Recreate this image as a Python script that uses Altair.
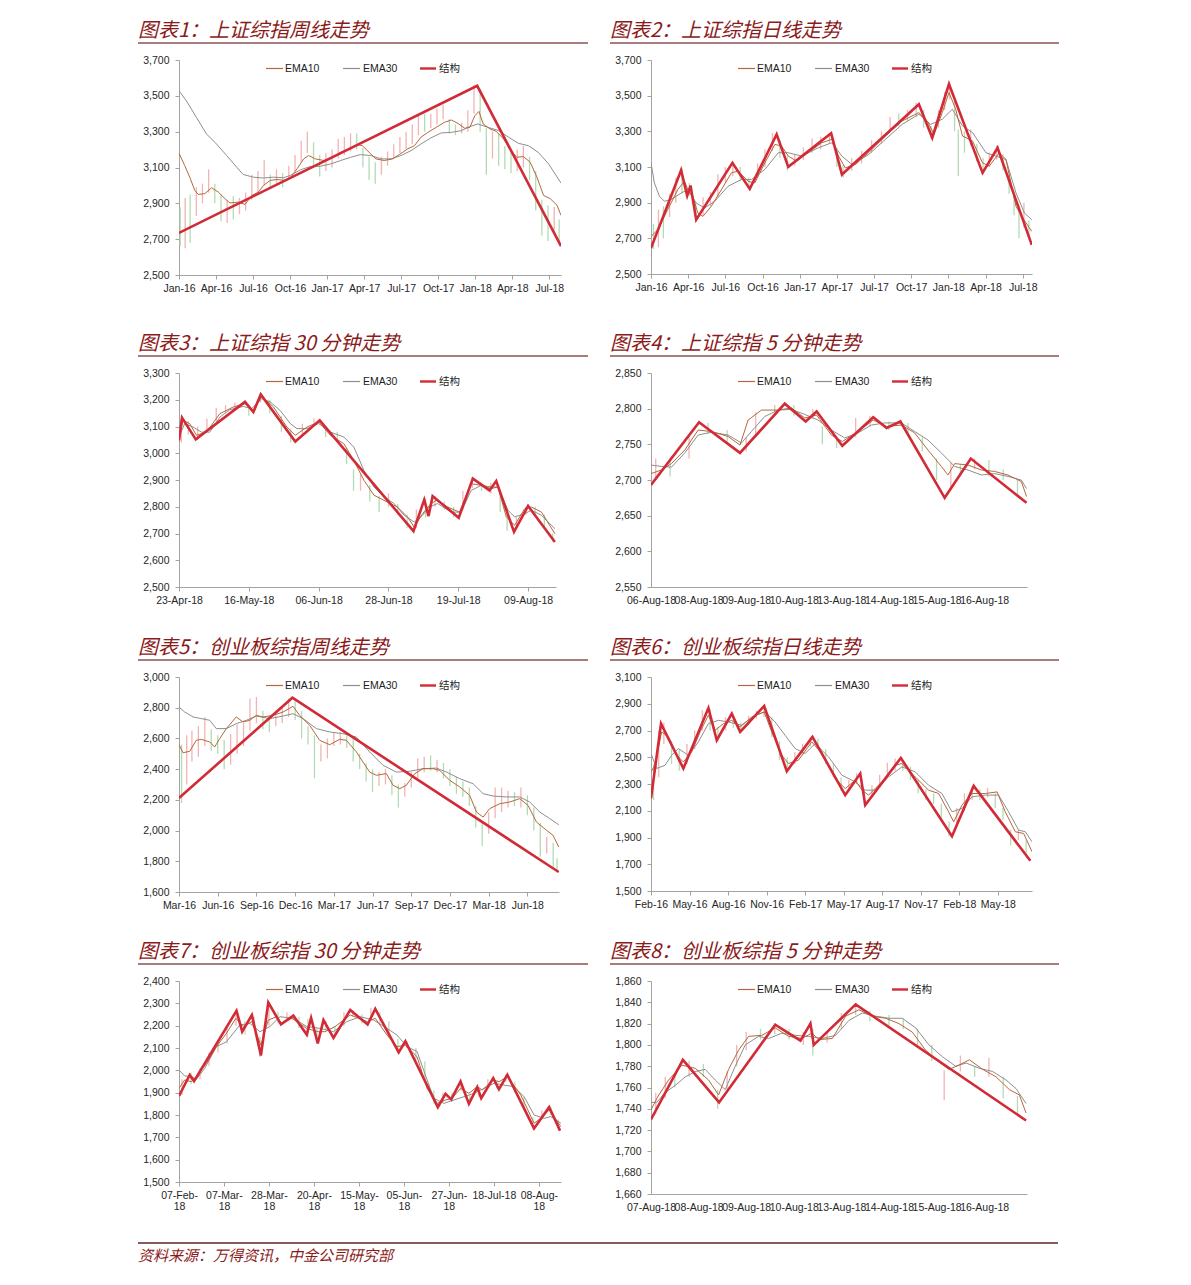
import altair as alt
import pandas as pd

# ---------------------------------------------------------------- data
# Panel 1: 上证综指周线 (x = months since Jan-16)
P1_TITLE = "图表1：上证综指周线走势"
P1_XTICKS = [0, 3, 6, 9, 12, 15, 18, 21, 24, 27, 30]
P1_XLABELS = ["Jan-16", "Apr-16", "Jul-16", "Oct-16", "Jan-17", "Apr-17", "Jul-17", "Oct-17", "Jan-18", "Apr-18", "Jul-18"]
P1_YTICKS = [2500, 2700, 2900, 3100, 3300, 3500, 3700]
P1_STRUCT = [(0, 2735), (24.16, 3556), (30.95, 2661)]
P1_EMA10 = [(0, 3180), (0.46, 3111), (0.87, 3046), (1.28, 2972), (1.55, 2950), (2.1, 2954), (2.64, 2987), (3.18, 2963),
            (3.72, 2926), (4.13, 2902), (4.81, 2907), (5.35, 2894), (5.9, 2944), (6.44, 2963), (6.85, 3000), (7.39, 3028),
            (7.93, 3033), (8.61, 3028), (9.02, 3043), (9.57, 3093), (10.1, 3148), (10.5, 3167), (11.06, 3148), (11.74, 3139),
            (12.42, 3154), (13.1, 3185), (13.8, 3204), (14.46, 3228), (14.86, 3222), (15.4, 3185), (15.95, 3148), (16.63, 3139),
            (17.3, 3148), (17.85, 3172), (18.53, 3204), (19.08, 3222), (19.6, 3269), (20.16, 3296), (20.84, 3324), (21.5, 3352),
            (22.07, 3365), (22.6, 3346), (23.15, 3319), (23.56, 3324), (23.97, 3389), (24.3, 3413), (24.65, 3343), (25.2, 3315),
            (25.7, 3302), (26.3, 3259), (26.8, 3204), (27.36, 3157), (27.9, 3161), (28.45, 3130), (29.0, 3046), (29.54, 2944),
            (30.08, 2926), (30.63, 2889), (30.95, 2833)]
P1_EMA30 = [(0, 3528), (0.6, 3472), (1.41, 3380), (2.23, 3287), (3.04, 3231), (3.86, 3167), (4.67, 3102), (5.2, 3061),
            (6.03, 3046), (6.85, 3041), (7.66, 3046), (8.48, 3043), (9.02, 3056), (9.84, 3087), (10.65, 3106), (11.46, 3107),
            (12.28, 3120), (13.1, 3139), (13.9, 3157), (14.7, 3172), (15.5, 3167), (16.4, 3148), (17.2, 3148), (18.0, 3167),
            (18.8, 3194), (19.6, 3231), (20.4, 3265), (21.25, 3293), (22.07, 3296), (22.9, 3306), (23.4, 3324), (24.2, 3343),
            (25.05, 3324), (25.9, 3306), (26.7, 3269), (27.5, 3235), (28.3, 3222), (29.1, 3185), (29.95, 3120), (30.95, 3013)]
P1_CANDLES = [(0.1, 2660, 2880, 0), (0.5, 2650, 2930, 1), (0.9, 2680, 2950, 0), (1.4, 2830, 2990, 1), (1.9, 2900, 3010, 1),
              (2.4, 2960, 3090, 1), (2.9, 2900, 3010, 0), (3.4, 2800, 2950, 0), (3.9, 2790, 2920, 1), (4.4, 2810, 2940, 0),
              (4.9, 2840, 2930, 1), (5.4, 2860, 2960, 1), (5.9, 2920, 3060, 1), (6.4, 2960, 3080, 1), (6.9, 3000, 3140, 1),
              (7.4, 2980, 3060, 0), (7.9, 3010, 3090, 1), (8.4, 2990, 3070, 0), (8.9, 3040, 3110, 1), (9.4, 3080, 3170, 1),
              (9.9, 3130, 3250, 1), (10.4, 3180, 3300, 1), (10.9, 3100, 3240, 0), (11.4, 3050, 3170, 0), (11.9, 3080, 3180, 1),
              (12.4, 3100, 3200, 1), (12.9, 3150, 3260, 1), (13.4, 3170, 3270, 1), (13.9, 3190, 3290, 1), (14.4, 3200, 3290, 0),
              (14.9, 3100, 3210, 0), (15.4, 3030, 3160, 0), (15.9, 3010, 3130, 0), (16.4, 3060, 3160, 1), (16.9, 3110, 3190, 1),
              (17.4, 3150, 3230, 1), (17.9, 3180, 3270, 1), (18.4, 3200, 3300, 1), (18.9, 3230, 3340, 1), (19.4, 3280, 3390, 1),
              (19.9, 3300, 3400, 0), (20.4, 3320, 3400, 1), (20.9, 3340, 3430, 1), (21.4, 3370, 3450, 1), (21.9, 3290, 3370, 0),
              (22.4, 3280, 3340, 0), (22.9, 3290, 3350, 1), (23.4, 3300, 3420, 1), (23.9, 3400, 3560, 1), (24.4, 3300, 3540, 0),
              (24.9, 3060, 3320, 0), (25.4, 3150, 3300, 1), (25.9, 3110, 3290, 0), (26.4, 3090, 3220, 0), (26.9, 3070, 3190, 0),
              (27.4, 3080, 3200, 1), (27.9, 3100, 3220, 1), (28.4, 3030, 3160, 0), (28.9, 2860, 3080, 0), (29.4, 2720, 2920, 0),
              (29.9, 2690, 2890, 0), (30.4, 2750, 2880, 1), (30.8, 2680, 2810, 0)]

# Panel 2: 上证综指日线 (x = months since Jan-16)
P2_TITLE = "图表2：上证综指日线走势"
P2_XTICKS = P1_XTICKS
P2_XLABELS = P1_XLABELS
P2_YTICKS = P1_YTICKS
P2_STRUCT = [(0, 2645), (2.43, 3082), (2.92, 2939), (3.19, 2996), (3.65, 2804), (6.57, 3123), (7.97, 2977), (10.14, 3283),
             (11.08, 3101), (14.54, 3289), (15.41, 3058), (21.62, 3452), (22.7, 3264), (24.05, 3565), (26.76, 3067),
             (27.97, 3208), (30.73, 2663)]
P2_EMA10 = [(0, 2710), (0.54, 2748), (1.35, 2861), (2.16, 2973), (2.7, 3020), (3.03, 2964), (3.38, 2936), (3.78, 2842),
            (4.19, 2823), (4.86, 2879), (5.68, 2973), (6.49, 3067), (7.03, 3077), (7.84, 3020), (8.38, 3011), (9.19, 3123),
            (10.0, 3227), (10.54, 3217), (11.08, 3161), (11.76, 3133), (12.7, 3180), (13.78, 3236), (14.59, 3255), (15.14, 3161),
            (15.68, 3095), (16.49, 3114), (17.57, 3180), (18.92, 3274), (20.27, 3358), (21.62, 3405), (22.3, 3358), (22.84, 3283),
            (23.51, 3405), (24.05, 3518), (24.59, 3424), (25.14, 3274), (25.95, 3246), (26.76, 3123), (27.3, 3105), (28.11, 3180),
            (28.65, 3142), (29.46, 2879), (30.0, 2814), (30.73, 2739)]
P2_EMA30 = [(0, 3124), (0.27, 3011), (0.68, 2936), (1.08, 2908), (1.62, 2917), (2.43, 2954), (2.97, 2973), (3.65, 2898),
            (4.32, 2870), (5.14, 2908), (6.22, 2992), (7.3, 3030), (8.11, 3030), (9.19, 3086), (10.27, 3180), (11.08, 3180),
            (12.16, 3161), (13.51, 3208), (14.59, 3236), (15.41, 3161), (16.22, 3114), (17.57, 3170), (18.92, 3255), (20.27, 3339),
            (21.62, 3396), (22.57, 3339), (23.51, 3368), (24.32, 3424), (25.14, 3330), (25.95, 3293), (27.03, 3180), (27.84, 3161),
            (28.65, 3142), (29.46, 2954), (30.14, 2842), (30.73, 2804)]
P2_CANDLES = [(0.2, 2640, 2780, 0), (0.6, 2650, 2860, 1), (1.0, 2700, 2880, 0), (1.5, 2820, 2950, 1), (2.0, 2900, 3040, 1),
              (2.5, 2950, 3090, 0), (3.1, 2940, 3010, 0), (3.6, 2800, 2900, 0), (4.2, 2830, 2930, 1), (4.8, 2880, 2960, 1),
              (5.4, 2930, 3060, 1), (6.0, 3010, 3100, 1), (6.6, 3050, 3130, 1), (7.2, 3020, 3100, 0), (7.9, 2980, 3040, 0),
              (8.6, 3040, 3120, 1), (9.2, 3100, 3200, 1), (9.8, 3190, 3290, 1), (10.4, 3150, 3250, 0), (11.0, 3080, 3160, 0),
              (11.6, 3110, 3170, 1), (12.3, 3140, 3210, 1), (13.0, 3180, 3260, 1), (13.7, 3200, 3270, 1), (14.4, 3230, 3290, 1),
              (15.0, 3100, 3210, 0), (15.5, 3040, 3110, 0), (16.2, 3080, 3150, 1), (17.0, 3120, 3190, 1), (17.8, 3180, 3250, 1),
              (18.6, 3230, 3300, 1), (19.3, 3300, 3380, 1), (20.0, 3330, 3400, 0), (20.7, 3360, 3420, 1), (21.4, 3380, 3460, 1),
              (22.0, 3320, 3420, 0), (22.6, 3260, 3330, 0), (23.2, 3320, 3420, 1), (23.7, 3420, 3520, 1), (24.1, 3480, 3570, 1),
              (24.5, 3300, 3480, 0), (24.8, 3050, 3310, 0), (25.3, 3180, 3300, 0), (25.8, 3220, 3310, 1), (26.3, 3130, 3230, 0),
              (26.8, 3060, 3150, 0), (27.3, 3100, 3180, 1), (27.9, 3140, 3220, 1), (28.4, 3080, 3170, 0), (28.9, 2950, 3080, 0),
              (29.3, 2830, 2950, 0), (29.7, 2700, 2860, 0), (30.1, 2760, 2900, 1), (30.5, 2700, 2800, 0)]

# Panel 3: 上证综指30分钟 (x = trading days since 23-Apr-18)
P3_TITLE = "图表3：上证综指 30 分钟走势"
P3_XTICKS = [0, 15, 30, 45, 60, 75]
P3_XLABELS = ["23-Apr-18", "16-May-18", "06-Jun-18", "28-Jun-18", "19-Jul-18", "09-Aug-18"]
P3_YTICKS = [2500, 2600, 2700, 2800, 2900, 3000, 3100, 3200, 3300]
P3_STRUCT = [(0, 3048), (0.65, 3133), (3.6, 3052), (14.18, 3192), (15.98, 3154), (17.56, 3220), (24.98, 3044), (30.23, 3123),
             (50.38, 2709), (52.69, 2826), (53.62, 2765), (54.49, 2840), (60.1, 2759), (63.13, 2905), (66.72, 2861),
             (68.16, 2896), (71.98, 2706), (75.0, 2803), (80.76, 2668)]
P3_EMA10 = [(0, 3054), (0.86, 3123), (2.3, 3111), (3.74, 3067), (5.9, 3079), (8.78, 3148), (11.66, 3173), (14.18, 3185),
            (15.98, 3160), (17.78, 3213), (20.3, 3173), (23.18, 3098), (24.98, 3067), (27.5, 3098), (30.02, 3117), (32.54, 3067),
            (35.41, 3036), (37.57, 2973), (39.73, 2899), (41.89, 2843), (44.05, 2824), (46.93, 2799), (49.09, 2762), (50.53, 2724),
            (52.33, 2774), (53.77, 2805), (55.21, 2824), (57.73, 2799), (60.25, 2780), (62.77, 2886), (64.93, 2880), (67.08, 2868),
            (68.52, 2874), (70.32, 2762), (72.12, 2731), (74.28, 2793), (75.72, 2799), (77.88, 2780), (80.76, 2699)]
P3_EMA30 = [(0, 3061), (1.22, 3111), (3.02, 3098), (4.82, 3079), (6.62, 3079), (8.78, 3135), (10.94, 3163), (13.82, 3175),
            (15.62, 3167), (17.78, 3204), (19.58, 3192), (21.74, 3160), (23.9, 3111), (25.34, 3092), (27.5, 3092), (30.02, 3111),
            (32.54, 3079), (35.41, 3061), (37.57, 3023), (39.73, 2936), (41.89, 2874), (44.05, 2836), (46.21, 2812), (48.37, 2768),
            (50.53, 2743), (52.33, 2768), (53.77, 2799), (55.57, 2812), (58.45, 2780), (60.61, 2780), (62.77, 2861), (64.93, 2880),
            (67.08, 2874), (68.52, 2874), (70.68, 2787), (72.12, 2762), (74.28, 2774), (75.72, 2787), (77.88, 2768), (80.76, 2718)]
P3_CANDLES = [(0.5, 3040, 3130, 1), (2.0, 3070, 3120, 0), (4.0, 3050, 3100, 1), (6.0, 3090, 3130, 1), (8.0, 3120, 3170, 1),
              (10.0, 3150, 3180, 1), (12.0, 3160, 3190, 1), (15.0, 3140, 3170, 0), (17.5, 3190, 3225, 1), (19.5, 3150, 3200, 0),
              (22.0, 3080, 3140, 0), (24.0, 3040, 3090, 0), (26.5, 3070, 3110, 1), (29.0, 3100, 3130, 1), (31.5, 3060, 3100, 0),
              (34.0, 3040, 3080, 0), (36.0, 2960, 3020, 0), (37.5, 2860, 2940, 0), (39.0, 2860, 2920, 1), (41.0, 2820, 2880, 0),
              (43.0, 2780, 2840, 0), (45.0, 2800, 2850, 1), (47.0, 2770, 2810, 0), (49.0, 2720, 2770, 0), (51.0, 2720, 2790, 1),
              (53.0, 2760, 2830, 0), (55.0, 2800, 2840, 1), (57.0, 2790, 2820, 0), (59.0, 2760, 2800, 0), (61.0, 2790, 2860, 1),
              (63.0, 2870, 2910, 1), (65.0, 2860, 2890, 0), (67.0, 2850, 2890, 1), (69.0, 2780, 2860, 0), (70.5, 2710, 2780, 0),
              (72.5, 2720, 2760, 1), (74.5, 2770, 2800, 1), (76.5, 2770, 2800, 0), (78.5, 2720, 2770, 0), (80.3, 2670, 2700, 0)]

# Panel 4: 上证综指5分钟 (x = trading days since 06-Aug-18)
P4_TITLE = "图表4：上证综指 5 分钟走势"
P4_XTICKS = [0, 1, 2, 3, 4, 5, 6, 7]
P4_XLABELS = ["06-Aug-18", "08-Aug-18", "09-Aug-18", "10-Aug-18", "13-Aug-18", "14-Aug-18", "15-Aug-18", "16-Aug-18"]
P4_YTICKS = [2550, 2600, 2650, 2700, 2750, 2800, 2850]
P4_STRUCT = [(0, 2693), (1.01, 2781), (1.87, 2738), (2.81, 2807), (3.25, 2782), (3.48, 2796), (4.02, 2748), (4.67, 2788),
             (4.95, 2773), (5.24, 2782), (6.17, 2675), (6.72, 2730), (7.89, 2668)]
P4_EMA10 = [(0, 2709), (0.22, 2714), (0.43, 2723), (0.71, 2742), (0.99, 2770), (1.27, 2768), (1.62, 2761), (1.87, 2749),
            (2.04, 2784), (2.32, 2798), (2.67, 2798), (2.95, 2801), (3.23, 2787), (3.48, 2791), (3.79, 2763), (4.02, 2754),
            (4.35, 2768), (4.67, 2784), (4.95, 2775), (5.26, 2777), (5.54, 2766), (5.82, 2742), (6.1, 2719), (6.24, 2707),
            (6.38, 2723), (6.66, 2721), (6.94, 2714), (7.22, 2712), (7.5, 2707), (7.78, 2698), (7.89, 2677)]
P4_EMA30 = [(0, 2721), (0.22, 2719), (0.43, 2718), (0.71, 2738), (0.99, 2763), (1.27, 2767), (1.62, 2763), (1.9, 2752),
            (2.11, 2768), (2.39, 2789), (2.67, 2798), (2.95, 2799), (3.23, 2792), (3.51, 2784), (3.79, 2770), (4.07, 2759),
            (4.35, 2766), (4.63, 2777), (4.91, 2780), (5.26, 2780), (5.54, 2768), (5.82, 2756), (6.1, 2738), (6.38, 2719),
            (6.66, 2714), (6.94, 2707), (7.22, 2709), (7.5, 2705), (7.78, 2700), (7.89, 2688)]
P4_CANDLES = [(0.1, 2700, 2730, 1), (0.4, 2705, 2730, 0), (0.8, 2730, 2760, 1), (1.2, 2765, 2780, 0), (1.6, 2750, 2770, 0),
              (2.0, 2740, 2760, 1), (2.2, 2760, 2795, 1), (2.6, 2795, 2805, 1), (3.0, 2790, 2805, 0), (3.4, 2785, 2800, 1),
              (3.6, 2750, 2775, 0), (3.9, 2745, 2760, 0), (4.3, 2760, 2787, 1), (4.6, 2775, 2790, 1), (5.0, 2770, 2782, 0),
              (5.4, 2765, 2780, 0), (5.7, 2740, 2760, 0), (6.0, 2700, 2730, 0), (6.3, 2690, 2725, 1), (6.5, 2705, 2722, 0),
              (6.8, 2715, 2730, 1), (7.1, 2705, 2728, 0), (7.4, 2700, 2715, 0), (7.7, 2680, 2700, 0)]

# Panel 5: 创业板综指周线 (x = months since Mar-16)
P5_TITLE = "图表5：创业板综指周线走势"
P5_XTICKS = [0, 3, 6, 9, 12, 15, 18, 21, 24, 27]
P5_XLABELS = ["Mar-16", "Jun-16", "Sep-16", "Dec-16", "Mar-17", "Jun-17", "Sep-17", "Dec-17", "Mar-18", "Jun-18"]
P5_YTICKS = [1600, 1800, 2000, 2200, 2400, 2600, 2800, 3000]
P5_STRUCT = [(0, 2212), (8.79, 2865), (29.43, 1730)]
P5_EMA10 = [(0, 2559), (0.31, 2507), (0.83, 2516), (1.34, 2588), (1.73, 2594), (2.38, 2577), (2.76, 2544), (3.15, 2598),
            (3.67, 2664), (4.44, 2740), (4.96, 2707), (5.48, 2718), (5.99, 2750), (6.51, 2740), (7.29, 2750), (8.06, 2772),
            (8.84, 2809), (9.35, 2750), (10.13, 2685), (10.9, 2588), (11.68, 2559), (12.45, 2594), (12.97, 2588), (13.75, 2512),
            (14.26, 2446), (14.78, 2381), (15.3, 2360), (16.07, 2371), (16.59, 2295), (17.11, 2273), (17.62, 2295), (18.27, 2371),
            (18.91, 2403), (19.69, 2403), (20.21, 2392), (20.98, 2327), (21.76, 2284), (22.53, 2229), (23.05, 2121), (23.57, 2088),
            (24.08, 2143), (24.86, 2175), (25.63, 2186), (26.41, 2208), (27.05, 2164), (27.7, 2056), (28.48, 2002), (28.99, 1969),
            (29.43, 1893)]
P5_EMA30 = [(0, 2805), (0.44, 2772), (1.09, 2740), (1.73, 2729), (2.38, 2718), (2.89, 2664), (3.67, 2664), (4.44, 2696),
            (5.22, 2718), (5.99, 2746), (7.03, 2729), (8.06, 2746), (8.84, 2761), (9.61, 2729), (10.65, 2664), (11.68, 2642),
            (12.71, 2631), (13.75, 2609), (14.78, 2512), (15.81, 2425), (16.85, 2381), (17.88, 2386), (18.91, 2403), (19.95, 2407),
            (20.72, 2381), (21.76, 2338), (22.79, 2305), (23.57, 2240), (24.34, 2225), (25.37, 2219), (26.41, 2219), (27.18, 2186),
            (27.96, 2121), (28.73, 2078), (29.43, 2038)]
P5_CANDLES = [(0.2, 2180, 2560, 0), (0.6, 2300, 2620, 1), (1.0, 2450, 2650, 1), (1.5, 2480, 2680, 1), (2.0, 2550, 2740, 1),
              (2.5, 2520, 2660, 0), (3.0, 2500, 2620, 0), (3.5, 2400, 2590, 0), (4.0, 2430, 2630, 1), (4.5, 2500, 2690, 1),
              (5.0, 2550, 2700, 1), (5.5, 2650, 2860, 1), (6.0, 2700, 2870, 1), (6.5, 2660, 2780, 0), (7.0, 2640, 2740, 0),
              (7.5, 2680, 2780, 1), (8.0, 2700, 2800, 1), (8.5, 2740, 2860, 1), (9.0, 2720, 2850, 0), (9.5, 2600, 2780, 0),
              (10.0, 2560, 2680, 0), (10.5, 2340, 2620, 0), (11.0, 2450, 2560, 1), (11.5, 2470, 2600, 1), (12.0, 2550, 2640, 1),
              (12.5, 2560, 2640, 1), (13.0, 2540, 2620, 0), (13.5, 2450, 2600, 0), (14.0, 2400, 2500, 0), (14.5, 2320, 2440, 0),
              (15.0, 2250, 2400, 0), (15.5, 2290, 2380, 1), (16.0, 2300, 2400, 1), (16.5, 2230, 2360, 0), (17.0, 2150, 2300, 0),
              (17.5, 2220, 2310, 1), (18.0, 2280, 2380, 1), (18.5, 2340, 2470, 1), (19.0, 2380, 2480, 1), (19.5, 2390, 2490, 0),
              (20.0, 2380, 2460, 1), (20.5, 2340, 2440, 0), (21.0, 2290, 2400, 0), (21.5, 2240, 2350, 0), (22.0, 2220, 2320, 0),
              (22.5, 2160, 2280, 0), (23.0, 2020, 2160, 0), (23.5, 1900, 2050, 0), (24.0, 1980, 2120, 1), (24.5, 2080, 2280, 1),
              (25.0, 2120, 2280, 1), (25.5, 2150, 2260, 1), (26.0, 2160, 2250, 0), (26.5, 2150, 2280, 1), (27.0, 2100, 2230, 0),
              (27.5, 2000, 2150, 0), (28.0, 1830, 2050, 0), (28.5, 1850, 1960, 1), (29.0, 1760, 1920, 0), (29.3, 1740, 1820, 0)]

# Panel 6: 创业板综指日线 (x = months since Feb-16)
P6_TITLE = "图表6：创业板综指日线走势"
P6_XTICKS = [0, 3, 6, 9, 12, 15, 18, 21, 24, 27]
P6_XLABELS = ["Feb-16", "May-16", "Aug-16", "Nov-16", "Feb-17", "May-17", "Aug-17", "Nov-17", "Feb-18", "May-18"]
P6_YTICKS = [1500, 1700, 1900, 2100, 2300, 2500, 2700, 2900, 3100]
P6_STRUCT = [(0, 2192), (0.78, 2751), (2.52, 2416), (4.47, 2868), (5.12, 2627), (6.29, 2826), (6.94, 2689), (8.81, 2883),
             (10.57, 2396), (12.57, 2652), (15.12, 2217), (16.29, 2378), (16.68, 2142), (19.45, 2495), (23.43, 1910),
             (25.12, 2286), (29.53, 1726)]
P6_EMA10 = [(0, 2391), (0.31, 2440), (0.83, 2689), (1.35, 2652), (2.0, 2515), (2.52, 2465), (3.17, 2540), (3.82, 2689),
            (4.47, 2814), (4.99, 2702), (5.64, 2751), (6.29, 2776), (6.94, 2727), (7.84, 2801), (8.81, 2839), (9.4, 2689),
            (10.18, 2515), (10.7, 2453), (11.48, 2478), (12.52, 2615), (13.3, 2528), (14.34, 2341), (15.12, 2266), (15.9, 2329),
            (16.42, 2254), (16.94, 2217), (17.97, 2316), (19.01, 2440), (19.53, 2453), (20.57, 2353), (21.61, 2254), (22.39, 2229),
            (23.17, 2092), (23.56, 2017), (24.21, 2142), (24.99, 2229), (26.03, 2229), (26.94, 2241), (27.58, 2092), (28.36, 1943),
            (29.01, 1930), (29.66, 1794)]
P6_EMA30 = [(0, 2528), (0.44, 2416), (1.09, 2440), (1.61, 2515), (2.13, 2565), (2.91, 2515), (3.69, 2615), (4.47, 2751),
            (5.25, 2776), (6.03, 2764), (7.06, 2739), (8.1, 2814), (8.88, 2839), (9.66, 2764), (10.44, 2664), (11.22, 2565),
            (12.0, 2528), (12.78, 2602), (13.82, 2503), (14.86, 2366), (15.9, 2316), (16.68, 2254), (17.45, 2254), (18.49, 2353),
            (19.53, 2428), (20.57, 2391), (21.61, 2291), (22.65, 2229), (23.43, 2092), (24.21, 2117), (24.99, 2204), (26.03, 2217),
            (27.06, 2217), (27.84, 2092), (28.62, 1955), (29.14, 1943), (29.66, 1868)]
P6_CANDLES = [(0.2, 2180, 2450, 0), (0.6, 2350, 2700, 1), (1.0, 2600, 2760, 1), (1.6, 2450, 2620, 0), (2.2, 2400, 2560, 0),
              (2.8, 2450, 2600, 1), (3.4, 2560, 2700, 1), (4.0, 2700, 2850, 1), (4.6, 2700, 2860, 0), (5.2, 2620, 2720, 0),
              (5.8, 2700, 2800, 1), (6.4, 2720, 2800, 0), (7.0, 2690, 2760, 0), (7.6, 2740, 2810, 1), (8.2, 2790, 2850, 1),
              (8.8, 2800, 2890, 1), (9.4, 2650, 2800, 0), (10.0, 2480, 2620, 0), (10.6, 2400, 2500, 0), (11.2, 2450, 2540, 1),
              (11.8, 2520, 2600, 1), (12.4, 2580, 2650, 1), (13.0, 2570, 2640, 0), (13.6, 2450, 2560, 0), (14.2, 2350, 2450, 0),
              (14.8, 2250, 2350, 0), (15.4, 2250, 2330, 1), (16.0, 2300, 2380, 1), (16.6, 2140, 2260, 0), (17.2, 2200, 2290, 1),
              (17.8, 2270, 2370, 1), (18.4, 2350, 2460, 1), (19.0, 2400, 2490, 1), (19.6, 2400, 2480, 0), (20.2, 2330, 2430, 0),
              (20.8, 2230, 2330, 0), (21.4, 2180, 2260, 0), (22.0, 2150, 2230, 0), (22.6, 2050, 2150, 0), (23.2, 1910, 2020, 0),
              (23.8, 2000, 2120, 1), (24.4, 2100, 2230, 1), (25.0, 2180, 2280, 1), (25.6, 2180, 2260, 0), (26.2, 2200, 2270, 1),
              (26.8, 2120, 2230, 0), (27.4, 2030, 2120, 0), (28.0, 1840, 1960, 0), (28.6, 1880, 1960, 1), (29.2, 1780, 1880, 0)]

# Panel 7: 创业板综指30分钟 (x = trading days since 07-Feb-18)
P7_TITLE = "图表7：创业板综指 30 分钟走势"
P7_XTICKS = [0, 15, 30, 45, 60, 75, 90, 105, 120]
P7_XLABELS = [["07-Feb-", "18"], ["07-Mar-", "18"], ["28-Mar-", "18"], ["20-Apr-", "18"], ["15-May-", "18"],
              ["05-Jun-", "18"], ["27-Jun-", "18"], ["18-Jul-18"], ["08-Aug-", "18"]]
P7_YTICKS = [1500, 1600, 1700, 1800, 1900, 2000, 2100, 2200, 2300, 2400]
P7_STRUCT = [(0, 1885), (3.57, 1979), (5.02, 1952), (19.18, 2267), (21.08, 2173), (24.31, 2248), (27.32, 2066), (29.78, 2304),
             (34.01, 2206), (38.14, 2245), (42.6, 2160), (44.05, 2235), (46.28, 2120), (48.18, 2225), (51.52, 2145), (57.1, 2270),
             (62.9, 2205), (65.46, 2275), (73.27, 2080), (75.5, 2130), (86.32, 1835), (88.88, 1895), (90.78, 1870), (93.9, 1950),
             (96.69, 1850), (99.48, 1925), (100.8, 1875), (104.8, 1965), (106.7, 1915), (109.5, 1980), (118.4, 1740),
             (123.45, 1835), (127.1, 1730)]
P7_EMA10 = [(0, 1919), (1.9, 1957), (4.13, 1949), (5.8, 1972), (9.14, 2031), (12.49, 2106), (15.84, 2166), (18.96, 2233),
            (21.41, 2196), (24.31, 2218), (27.32, 2113), (29.78, 2225), (32.56, 2240), (34.24, 2210), (37.58, 2233), (42.6, 2188),
            (44.27, 2181), (46.5, 2173), (48.73, 2173), (52.08, 2196), (57.1, 2248), (62.9, 2218), (65.46, 2233), (69.37, 2158),
            (72.71, 2106), (75.5, 2113), (79.4, 2061), (82.75, 1919), (86.09, 1852), (88.88, 1867), (91.11, 1875), (93.9, 1919),
            (96.69, 1897), (99.48, 1927), (101.15, 1912), (104.83, 1957), (106.73, 1949), (109.51, 1972), (113.97, 1890),
            (118.43, 1763), (120.67, 1785), (123.45, 1822), (127.36, 1748)]
P7_EMA30 = [(0, 2001), (1.9, 1975), (4.13, 1972), (5.8, 1960), (8.59, 2009), (12.49, 2106), (15.84, 2128), (20.3, 2203),
            (23.64, 2210), (26.99, 2173), (30.33, 2196), (33.68, 2240), (38.14, 2233), (42.6, 2196), (47.06, 2188), (51.52, 2173),
            (55.98, 2218), (60.44, 2240), (64.91, 2225), (69.37, 2188), (72.71, 2158), (76.06, 2106), (79.4, 2084), (82.75, 1957),
            (84.98, 1875), (88.32, 1852), (91.67, 1867), (95.02, 1882), (98.36, 1897), (101.71, 1919), (105.05, 1942),
            (108.4, 1934), (111.74, 1927), (115.09, 1882), (118.43, 1800), (121.78, 1785), (124.01, 1793), (127.36, 1763)]
P7_CANDLES = [(1, 1890, 1960, 1), (4, 1940, 1990, 0), (7, 1960, 2010, 1), (10, 2020, 2080, 1), (13, 2080, 2130, 1),
              (16, 2120, 2190, 1), (19, 2200, 2270, 1), (22, 2160, 2220, 0), (25, 2190, 2240, 1), (27, 2060, 2150, 0),
              (30, 2200, 2300, 1), (33, 2210, 2260, 0), (36, 2220, 2260, 1), (40, 2190, 2240, 0), (43, 2150, 2230, 0),
              (46, 2120, 2190, 0), (49, 2180, 2220, 1), (52, 2150, 2200, 0), (55, 2200, 2260, 1), (58, 2240, 2270, 1),
              (61, 2210, 2250, 0), (64, 2230, 2280, 1), (67, 2210, 2260, 0), (70, 2150, 2220, 0), (73, 2080, 2140, 0),
              (76, 2100, 2130, 1), (79, 2050, 2100, 0), (82, 1950, 2040, 0), (85, 1850, 1910, 0), (88, 1860, 1900, 1),
              (91, 1860, 1900, 0), (94, 1910, 1950, 1), (97, 1850, 1890, 0), (100, 1880, 1920, 1), (103, 1920, 1960, 1),
              (106, 1920, 1950, 0), (109, 1950, 1980, 1), (112, 1900, 1950, 0), (115, 1820, 1880, 0), (118, 1740, 1790, 0),
              (121, 1780, 1820, 1), (124, 1800, 1835, 0), (126.5, 1730, 1780, 0)]

# Panel 8: 创业板综指5分钟 (x = trading days since 07-Aug-18)
P8_TITLE = "图表8：创业板综指 5 分钟走势"
P8_XTICKS = [0, 1, 2, 3, 4, 5, 6, 7]
P8_XLABELS = ["07-Aug-18", "08-Aug-18", "09-Aug-18", "10-Aug-18", "13-Aug-18", "14-Aug-18", "15-Aug-18", "16-Aug-18"]
P8_YTICKS = [1660, 1680, 1700, 1720, 1740, 1760, 1780, 1800, 1820, 1840, 1860]
P8_STRUCT = [(0, 1730), (0.67, 1786), (1.43, 1746), (2.61, 1819), (3.14, 1804), (3.35, 1820), (3.42, 1800), (4.3, 1838),
             (7.88, 1729)]
P8_EMA10 = [(0, 1739), (0.15, 1752), (0.37, 1767), (0.65, 1781), (0.93, 1778), (1.21, 1767), (1.42, 1753), (1.63, 1777),
            (1.84, 1795), (2.05, 1808), (2.33, 1809), (2.61, 1816), (2.89, 1808), (3.17, 1806), (3.38, 1811), (3.53, 1805),
            (3.81, 1806), (4.09, 1827), (4.37, 1833), (4.65, 1827), (4.93, 1825), (5.21, 1820), (5.49, 1812), (5.77, 1795),
            (6.05, 1784), (6.26, 1777), (6.47, 1781), (6.69, 1786), (6.97, 1777), (7.25, 1770), (7.53, 1758), (7.74, 1753),
            (7.88, 1736)]
P8_EMA30 = [(0, 1746), (0.12, 1746), (0.29, 1755), (0.51, 1762), (0.72, 1770), (0.93, 1775), (1.14, 1777), (1.35, 1767),
            (1.56, 1758), (1.77, 1780), (1.98, 1800), (2.26, 1808), (2.47, 1806), (2.75, 1811), (3.03, 1809), (3.31, 1808),
            (3.6, 1806), (3.88, 1809), (4.16, 1823), (4.44, 1830), (4.72, 1827), (5.0, 1825), (5.28, 1825), (5.56, 1816),
            (5.84, 1800), (6.12, 1789), (6.4, 1780), (6.62, 1783), (6.9, 1778), (7.18, 1775), (7.46, 1767), (7.67, 1759),
            (7.88, 1745)]
P8_CANDLES = [(0.1, 1735, 1755, 1), (0.3, 1750, 1770, 1), (0.5, 1760, 1772, 0), (0.8, 1770, 1785, 1), (1.1, 1770, 1782, 0),
              (1.4, 1740, 1758, 0), (1.6, 1755, 1775, 1), (1.8, 1780, 1800, 1), (2.0, 1795, 1812, 1), (2.3, 1805, 1815, 0),
              (2.6, 1810, 1820, 1), (2.9, 1805, 1815, 0), (3.2, 1800, 1812, 1), (3.4, 1790, 1815, 0), (3.7, 1802, 1812, 1),
              (4.0, 1815, 1830, 1), (4.3, 1828, 1838, 1), (4.6, 1822, 1832, 0), (5.0, 1818, 1828, 0), (5.3, 1815, 1825, 0),
              (5.6, 1800, 1815, 0), (5.9, 1785, 1800, 0), (6.16, 1748, 1776, 1), (6.5, 1775, 1790, 1), (6.8, 1770, 1780, 0),
              (7.1, 1770, 1788, 1), (7.4, 1750, 1770, 0), (7.7, 1735, 1752, 0)]

SOURCE_TEXT = "资料来源：万得资讯，中金公司研究部"
SERIES_NAMES = ["EMA10", "EMA30", "结构"]

# ---------------------------------------------------------------- style
C_EMA10 = "#b4683c"
C_EMA30 = "#8e8e8e"
C_STRUCT = "#d22a36"
C_UP = "#f2b3b3"
C_DOWN = "#b3dbb3"
C_TITLE = "#8b1a1a"
C_RULE = "#8c5252"
CJK = "Noto Sans CJK SC"
LATIN = "Liberation Sans"

dummy = pd.DataFrame({"k": [0]})


def js_label(l):
    if isinstance(l, (list, tuple)):
        return "[" + ",".join("'%s'" % s for s in l) + "]"
    return "'%s'" % l


def txt(s, x, y, size, color, font, style="normal"):
    return alt.Chart(dummy).mark_text(
        text=s, align="left", baseline="middle", fontSize=size, font=font,
        fontStyle=style, color=color
    ).encode(x=alt.value(x), y=alt.value(y))


def hline(x1, x2, y, color, width):
    return alt.Chart(dummy).mark_rule(color=color, strokeWidth=width).encode(
        x=alt.value(x1), x2=alt.value(x2), y=alt.value(y))


def panel(title, xdom, xticks, xlabels, step, ydom, yticks, e10, e30, st, candles,
          width, height, rule_right, xtick_size=4):
    xs = alt.Scale(domain=xdom, nice=False, zero=False)
    ys = alt.Scale(domain=ydom, nice=False, zero=False)
    expr = "[" + ",".join(js_label(l) for l in xlabels) + "][round(datum.value/%s)]" % step
    xa = alt.Axis(values=xticks, labelExpr=expr, title=None, grid=False, tickSize=xtick_size,
                  labelFlush=False, labelOverlap=False, labelPadding=8 - xtick_size, labelLineHeight=11,
                  labelBaseline="top")
    ya = alt.Axis(values=yticks, format=",d", title=None, grid=False, tickSize=4, labelPadding=6)

    cdf = pd.DataFrame(candles, columns=["x", "lo", "hi", "up"])
    cdf["dir"] = cdf["up"].map({1: "up", 0: "down"})
    layers = [
        alt.Chart(cdf).mark_rule(strokeWidth=1.3, clip=True).encode(
            x=alt.X("x:Q", scale=xs, axis=xa),
            y=alt.Y("lo:Q", scale=ys, axis=ya),
            y2=alt.Y2("hi"),
            color=alt.Color("dir:N", scale=alt.Scale(domain=["up", "down"], range=[C_UP, C_DOWN]), legend=None),
        )
    ]
    for pts, col, w in [(e30, C_EMA30, 1.0), (e10, C_EMA10, 1.0), (st, C_STRUCT, 2.6)]:
        df = pd.DataFrame(pts, columns=["x", "y"])
        layers.append(
            alt.Chart(df).mark_line(color=col, strokeWidth=w, clip=True).encode(
                x=alt.X("x:Q", scale=xs, axis=xa), y=alt.Y("y:Q", scale=ys, axis=ya))
        )
    ly = 8.5
    layers += [
        hline(87, 104, ly, C_EMA10, 1.2), txt(SERIES_NAMES[0], 106, ly, 10.5, "#222222", LATIN),
        hline(164, 181, ly, C_EMA30, 1.2), txt(SERIES_NAMES[1], 184, ly, 10.5, "#222222", LATIN),
        hline(241, 257, ly, C_STRUCT, 2.4), txt(SERIES_NAMES[2], 260, ly, 10.5, "#222222", CJK),
        txt(title, -41, -29.5, 20, C_TITLE, CJK, "italic"),
        hline(-41, rule_right, -17, C_RULE, 1.3),
    ]
    return alt.layer(*layers).properties(width=width, height=height)


p1 = panel(P1_TITLE, [0, 30.95], P1_XTICKS, P1_XLABELS, 3, [2500, 3700], P1_YTICKS,
           P1_EMA10, P1_EMA30, P1_STRUCT, P1_CANDLES, 382, 215, 409)
p2 = panel(P2_TITLE, [0, 30.75], P2_XTICKS, P2_XLABELS, 3, [2500, 3700], P2_YTICKS,
           P2_EMA10, P2_EMA30, P2_STRUCT, P2_CANDLES, 381, 214, 408)
p3 = panel(P3_TITLE, [0, 81], P3_XTICKS, P3_XLABELS, 15, [2500, 3300], P3_YTICKS,
           P3_EMA10, P3_EMA30, P3_STRUCT, P3_CANDLES, 377, 214, 409)
p4 = panel(P4_TITLE, [0, 7.9], P4_XTICKS, P4_XLABELS, 1, [2550, 2850], P4_YTICKS,
           P4_EMA10, P4_EMA30, P4_STRUCT, P4_CANDLES, 376, 214, 408, xtick_size=0)
p5 = panel(P5_TITLE, [0, 29.45], P5_XTICKS, P5_XLABELS, 3, [1600, 3000], P5_YTICKS,
           P5_EMA10, P5_EMA30, P5_STRUCT, P5_CANDLES, 380, 215, 409)
p6 = panel(P6_TITLE, [0, 29.66], P6_XTICKS, P6_XLABELS, 3, [1500, 3100], P6_YTICKS,
           P6_EMA10, P6_EMA30, P6_STRUCT, P6_CANDLES, 381, 214, 408)
p7 = panel(P7_TITLE, [0, 127.4], P7_XTICKS, P7_XLABELS, 15, [1500, 2400], P7_YTICKS,
           P7_EMA10, P7_EMA30, P7_STRUCT, P7_CANDLES, 382, 201, 409)
p8 = panel(P8_TITLE, [0, 7.9], P8_XTICKS, P8_XLABELS, 1, [1660, 1860], P8_YTICKS,
           P8_EMA10, P8_EMA30, P8_STRUCT, P8_CANDLES, 376, 213, 408, xtick_size=0)

footer = alt.layer(
    hline(-41, 879, 0, "#8a5a5a", 2),
    txt(SOURCE_TEXT, -41, 13, 15, C_TITLE, CJK, "italic"),
).properties(width=879, height=20)

row1 = alt.hconcat(p1, p2, spacing=20)
row2 = alt.hconcat(p3, p4, spacing=20)
row3 = alt.hconcat(p5, p6, spacing=20)
row4 = alt.hconcat(p7, p8, spacing=20)

rows34 = alt.vconcat(row3, row4, spacing=30)
rows234 = alt.vconcat(row2, rows34, spacing=31)
rows1234 = alt.vconcat(row1, rows234, spacing=39)

chart = alt.vconcat(rows1234, footer, spacing=29).properties(
    padding={"left": 129, "top": 12, "right": 10, "bottom": 10}
).configure_view(stroke=None).configure_axis(
    labelFont=LATIN, labelFontSize=10.5, labelColor="#262626",
    domainColor="#a3a3a3", tickColor="#a3a3a3", domainWidth=1, tickWidth=1, grid=False
)

chart.save("out.html", embed_options={"renderer": "svg", "actions": False})
